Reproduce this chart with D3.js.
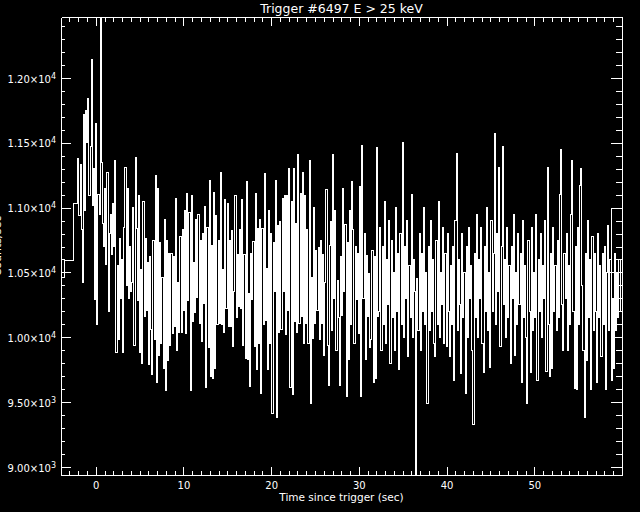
<!doctype html>
<html lang="en">
<head>
<meta charset="utf-8">
<title>Trigger #6497 E &gt; 25 keV</title>
<style>
  html, body { margin: 0; padding: 0; background: #000; }
  svg { display: block; background: #000; }
  text { font-family: "DejaVu Sans", sans-serif; fill: #fff; }
</style>
</head>
<body>
<svg id="chart" width="640" height="512"></svg>
<script src="https://d3js.org/d3.v7.min.js"></script>
<script>
// 1.024 s background bins before the 64 ms data (bin start in sec, rate in counts/s)
var preStart = [-4.60, -3.58, -2.56];
var preRate = [10460, 10590, 11030];

// 0.128 s bins, first one starts at fineStart
var fineStart = -2.048;
var fineStep = 0.128;
var fineRate = [
  11380, 10940, 11330, 10830, 10420, 11720, 10980, 11750, 11500, 11840,
  11090, 11470, 12140, 11020, 11300, 10290, 11650, 10100, 11100, 10950,
  12650, 11350, 10880, 10700, 11150, 10560, 11270, 10200, 10800, 10950,
  10640, 11030, 10700, 11360, 9880, 10550, 9980, 10760, 10300, 10600,
  9880, 10850, 11310, 10400, 11150, 10300, 10700, 10350,
  10420, 11000, 9940, 11390, 10840, 10280, 11090, 9880, 10520, 9800,
  11050, 10160, 10760, 10210, 10580, 9790, 10620, 10060, 9710, 10750,
  9980, 11250, 9650, 11150, 9860, 10730, 9950, 10460, 9760, 10910,
  9590, 10750, 9820, 10650, 9940, 10650, 10030, 10620, 10080, 11070,
  9900, 10420, 10040, 10780, 10040, 10830, 10210, 10980, 10030, 11110,
  10280, 10960, 9590, 11090, 10120, 10580, 10190, 10910, 10310, 10950,
  10110, 10750, 9970, 10800, 10260, 11010, 9610, 10850, 9920, 11210,
  9700, 10710, 9680, 11120, 9760, 10940, 10100, 10750, 10110, 11270,
  10100, 10520, 10040, 11060, 10220, 11030, 10080, 10750, 10080, 10820,
  9930, 10350, 11090, 10150, 10640, 10240, 10830, 10220, 11060, 9940,
  10640, 9840, 11200, 9830, 10340, 9620, 10650, 10290, 10740, 9930,
  11110, 9750, 10840, 9950, 10910, 9570, 10840, 10100, 11260, 10130,
  10530, 9750, 10980, 9950, 10800, 9410, 10730, 10350, 11210, 9380,
  10860, 10040, 10890, 10060, 11070, 10350, 11090, 10020, 11090, 10210,
  11300, 9610, 11050, 9560, 11300, 10120, 10880, 10040, 11410, 10110,
  11110, 10160, 11270, 9950, 11090, 10110, 10830, 9950, 11360, 9490,
  10460, 9990, 11000, 10110, 10670, 10210, 10690, 9980, 10750, 10110,
  10640, 9860, 10420, 11140, 9940,
  9630, 10710, 10890, 10050, 11410, 10300, 10980, 9900, 10440, 10150,
  9630, 10620, 10170, 11150, 10350, 10870, 9540, 10730, 9830, 10980,
  10100, 11200, 10830, 9950, 10700, 10290, 10650, 10030, 11160, 9540,
  11480, 10300, 10800, 9830, 10630, 10160, 10490, 9920, 9980, 10670,
  9650, 10620, 9680, 11460, 10160,
  10200, 10850, 9900, 10700, 10100, 11050, 9950, 10600, 10250, 10900,
  9800, 10750, 10150, 10500, 9900, 11000, 10200, 10650, 9750, 10800,
  10100, 11500, 10000, 10700, 10300, 10900, 9850, 10550, 10150, 11100,
  10000, 10600, 10350, 8880, 10450, 10050, 10800, 9900, 10650, 10200,
  11000, 10100, 10500, 9490, 10700, 10050, 10900, 10200, 10600, 9950,
  9850, 10750, 10100, 11050, 10000, 10500, 10250, 10850, 9950, 10650,
  9930, 10800, 10200, 9850, 10550, 10100, 10700, 9670, 10900, 11420,
  10050, 10600, 10250, 9720, 10800, 10150, 10500, 9570, 10700, 10000,
  10850, 10300, 10550, 9900, 9330, 10650, 10150, 10950, 10000, 10600,
  10300, 10850, 9950, 9730, 10700, 10200, 11000, 10050, 10500, 9770,
  10900, 10200, 10650, 11575, 10100, 10800, 10350, 11313, 9930, 10700,
  11468, 10250, 10600, 10000, 10850, 10150, 10550, 9800, 10700, 10300,
  10950, 9860, 10500, 10100, 10800, 10250, 10650, 9650, 10900, 10150,
  10550, 10000, 9490, 10750, 10200, 9730, 10850, 10050, 10500, 10150,
  10950, 9670, 10600, 10200, 10800, 10000, 10550, 10300, 10900, 9740,
  11313, 10100, 9700, 10650, 9760, 10850, 10200, 10550, 10050, 10750,
  10150, 11100, 11452, 10250, 9900, 10650, 10300, 10800, 9900, 10550,
  10100, 10950, 11360, 10200, 9606, 10700, 9600, 10850, 10100, 11167,
  11298, 10400, 9900, 9380, 10650, 9820, 10900, 10150, 10600, 9600,
  10780, 10050, 10650, 10200, 9650, 10800, 10150, 10550, 9850, 10650,
  10100, 10700, 9600, 10500, 10860, 10050, 10600, 9670, 10300, 9760,
  10650, 10050, 10500, 10150, 10600, 10200
];

// 1.024 s bins after the 64 ms data
var postStart = [57.74, 58.76];
var postRate = [10500, 10990];

var xMajorTicks = [0, 10, 20, 30, 40, 50];
var yMajorTicks = [9000, 9500, 10000, 10500, 11000, 11500, 12000];

var padL = 61, padR = 622, padT = 17, padB = 475;

var svg = d3.select("#chart");

var x = d3.scaleLinear().domain([-3.96, 60]).range([padL, padR]);
var y = d3.scaleLinear().domain([8938, 12470]).range([padB, padT]);

svg.append("defs").append("clipPath").attr("id", "plotclip")
  .append("rect").attr("x", padL).attr("y", padT)
  .attr("width", padR - padL).attr("height", padB - padT);

// build step points
var pts = preStart.map(function (t, i) { return [t, preRate[i]]; });
fineRate.forEach(function (v, i) { pts.push([fineStart + i * fineStep, v]); });
pts.push([fineStart + fineRate.length * fineStep, fineRate[fineRate.length - 1]]);

var postPts = postStart.map(function (t, i) { return [t, postRate[i]]; });
postPts.push([61, postRate[postRate.length - 1]]);

var line = d3.line()
  .x(function (d) { return x(d[0]); })
  .y(function (d) { return y(d[1]); })
  .curve(d3.curveStepAfter);

var plot = svg.append("g").attr("clip-path", "url(#plotclip)");
plot.append("path").datum(pts)
  .attr("d", line)
  .attr("fill", "none").attr("stroke", "#fff").attr("stroke-width", 1)
  .attr("shape-rendering", "crispEdges");
plot.append("path").datum(postPts)
  .attr("d", line)
  .attr("fill", "none").attr("stroke", "#fff").attr("stroke-width", 1)
  .attr("shape-rendering", "crispEdges");

// axes, ticks pointing inward like IDL
function styleAxis(g) {
  g.attr("color", "#fff").attr("font-family", null).attr("font-size", null);
  g.selectAll("line, path").attr("shape-rendering", "crispEdges");
}

var minorX = d3.range(-3, 60, 1);
var minorY = d3.range(9000, 12500, 100);

svg.append("g").attr("transform", "translate(0," + padB + ")")
  .call(d3.axisBottom(x).tickValues(minorX).tickSize(-4).tickSizeOuter(0).tickFormat(""))
  .call(styleAxis);
var gx = svg.append("g").attr("transform", "translate(0," + padB + ")")
  .call(d3.axisBottom(x).tickValues(xMajorTicks).tickSize(-8).tickSizeOuter(0).tickPadding(7)
    .tickFormat(d3.format("d")))
  .call(styleAxis);
gx.selectAll("text").style("font-size", "10px");

svg.append("g").attr("transform", "translate(0," + padT + ")")
  .call(d3.axisTop(x).tickValues(minorX).tickSize(-5).tickSizeOuter(0).tickFormat(""))
  .call(styleAxis);
svg.append("g").attr("transform", "translate(0," + padT + ")")
  .call(d3.axisTop(x).tickValues(xMajorTicks).tickSize(-9).tickSizeOuter(0).tickFormat(""))
  .call(styleAxis);

svg.append("g").attr("transform", "translate(" + padL + ",0)")
  .call(d3.axisLeft(y).tickValues(minorY).tickSize(-4).tickSizeOuter(0).tickFormat(""))
  .call(styleAxis);
var gy = svg.append("g").attr("transform", "translate(" + padL + ",0)")
  .call(d3.axisLeft(y).tickValues(yMajorTicks).tickSize(-10).tickSizeOuter(0).tickPadding(5))
  .call(styleAxis);

svg.append("g").attr("transform", "translate(" + padR + ",0)")
  .call(d3.axisRight(y).tickValues(minorY).tickSize(-6).tickSizeOuter(0).tickFormat(""))
  .call(styleAxis);
svg.append("g").attr("transform", "translate(" + padR + ",0)")
  .call(d3.axisRight(y).tickValues(yMajorTicks).tickSize(-11).tickSizeOuter(0).tickFormat(""))
  .call(styleAxis);

// y labels as m.mm x 10^e
gy.selectAll(".tick text").each(function (d) {
  var e = Math.floor(Math.log10(d));
  var m = d / Math.pow(10, e);
  var t = d3.select(this).text(null).attr("dy", "0.42em").style("font-size", "10px");
  t.append("tspan").text(m.toFixed(2) + "\u00d710");
  t.append("tspan").attr("dy", "-4").style("font-size", "8px").text(e);
});

// titles
svg.append("text")
  .attr("x", (padL + padR) / 2).attr("y", 13)
  .attr("text-anchor", "middle").style("font-size", "12.5px")
  .text("Trigger #6497 E > 25 keV");

svg.append("text")
  .attr("x", (padL + padR) / 2).attr("y", 501)
  .attr("text-anchor", "middle").style("font-size", "10.5px")
  .text("Time since trigger (sec)");

// y title sits mostly off the left edge, as in the original
svg.append("text")
  .attr("transform", "translate(1," + (padT + padB) / 2 + ") rotate(-90)")
  .attr("text-anchor", "middle").style("font-size", "11px")
  .text("Counts/sec");
</script>
</body>
</html>
